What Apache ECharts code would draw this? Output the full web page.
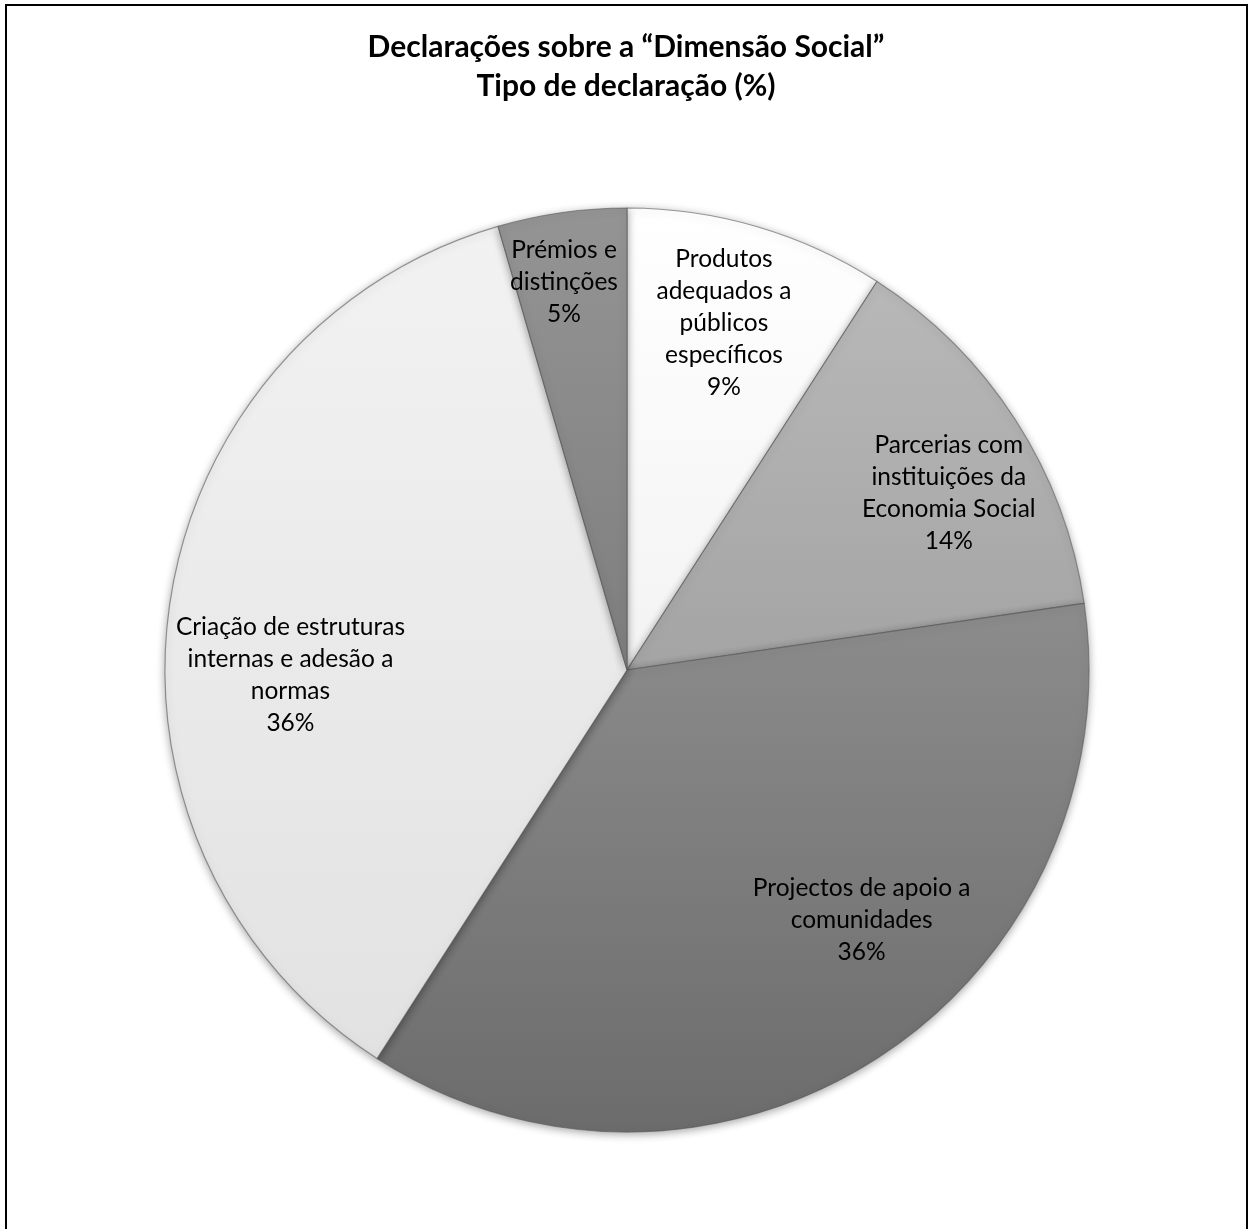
<!DOCTYPE html>
<html>
<head>
<meta charset="utf-8">
<script src="https://cdn.jsdelivr.net/npm/echarts@6/dist/echarts.min.js"></script>
<style>
  html, body { margin: 0; padding: 0; background: #fff; }
  #main { width: 1252px; height: 1229px; }
</style>
</head>
<body>
<div id="main"></div>
<script>
// ---- dados ----
var categorias = [
    'Produtos\nadequados a\npúblicos\nespecíficos',
    'Parcerias com\ninstituições da\nEconomia Social',
    'Projectos de apoio a\ncomunidades',
    'Criação de estruturas\ninternas e adesão a\nnormas',
    'Prémios e\ndistinções'
];
var valores = [9.1, 13.6, 36.4, 36.4, 4.5];

// cores (topo, base) de cada fatia
var coresTopo = ['#ffffff', '#b8b8b8', '#8c8c8c', '#f2f2f2', '#949494'];
var coresBase = ['#f3f3f3', '#a4a4a4', '#6c6c6c', '#e2e2e2', '#7e7e7e'];
// deslocamento dos rótulos (estilo Excel "melhor ajuste")
var rotuloDx = [31, 125, 108, -105, -30];
var rotuloDy = [-122, -50, 53, 39, -156];

function renderChartPie() {
    var dom = document.getElementById('main');
    var myChart = echarts.init(dom, null, { renderer: 'canvas' });

    var dados = categorias.map(function (nome, i) {
        return {
            name: nome,
            value: valores[i],
            itemStyle: {
                color: new echarts.graphic.LinearGradient(0, 0, 0, 1, [
                    { offset: 0, color: coresTopo[i] },
                    { offset: 1, color: coresBase[i] }
                ])
            }
        };
    });

    var option = {
        backgroundColor: '#ffffff',
        animation: false,
        title: {
            text: 'Declarações sobre a “Dimensão Social”\nTipo de declaração (%)',
            left: 'center',
            top: 23,
            textStyle: {
                fontFamily: 'Lato',
                fontWeight: 'bold',
                fontSize: 30,
                lineHeight: 39,
                color: '#000'
            }
        },
        graphic: [{
            type: 'rect',
            shape: { x: 6, y: 5, width: 1241, height: 1300 },
            style: { fill: 'none', stroke: '#000', lineWidth: 2 },
            silent: true
        }],
        series: [{
            type: 'pie',
            center: [627, 670],
            radius: [0, 462],
            startAngle: 90,
            clockwise: true,
            avoidLabelOverlap: false,
            itemStyle: {
                borderColor: 'rgba(90,90,90,0.6)',
                borderWidth: 1.2,
                shadowBlur: 8,
                shadowOffsetY: 2,
                shadowColor: 'rgba(0,0,0,0.35)'
            },
            label: {
                show: true,
                position: 'inside',
                fontFamily: 'Lato',
                fontSize: 24.5,
                lineHeight: 32,
                color: '#000',
                align: 'center',
                formatter: function (p) {
                    return p.name + '\n' + Math.round(p.percent) + '%';
                }
            },
            labelLine: { show: false },
            labelLayout: function (p) {
                return { dx: rotuloDx[p.dataIndex], dy: rotuloDy[p.dataIndex] };
            },
            emphasis: { disabled: true },
            data: dados
        }]
    };

    if (option && typeof option === 'object') {
        myChart.setOption(option);
    }
}
renderChartPie();
</script>
</body>
</html>
